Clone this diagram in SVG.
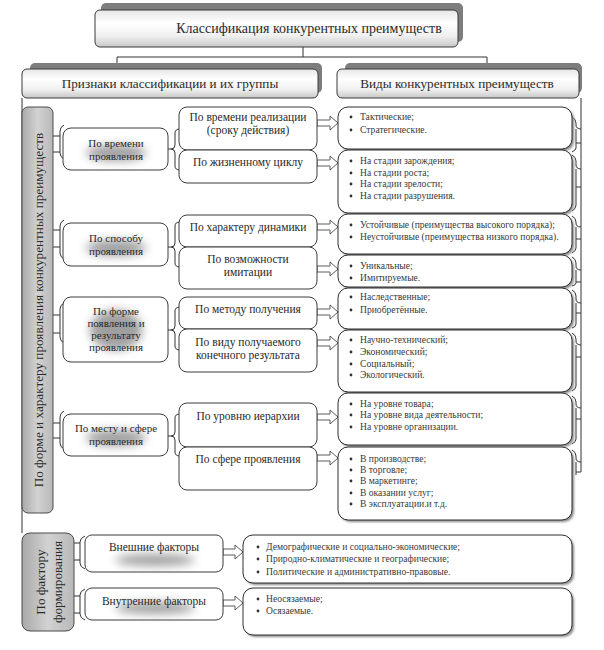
<svg xmlns="http://www.w3.org/2000/svg" width="604" height="650" viewBox="0 0 604 650" font-family="'Liberation Serif', 'Times New Roman', serif">
<defs>
<linearGradient id="hdr" x1="0" y1="0" x2="0" y2="1">
<stop offset="0" stop-color="#e6e6e6"/>
<stop offset="0.35" stop-color="#ffffff"/>
<stop offset="0.7" stop-color="#f0f0f0"/>
<stop offset="1" stop-color="#c8c8c8"/>
</linearGradient>
<linearGradient id="bar" x1="0" y1="0" x2="1" y2="0">
<stop offset="0" stop-color="#a9a9a9"/>
<stop offset="0.5" stop-color="#d2d2d2"/>
<stop offset="1" stop-color="#b8b8b8"/>
</linearGradient>
<filter id="blur" x="-50%" y="-100%" width="200%" height="300%">
<feGaussianBlur stdDeviation="5"/>
</filter>
<filter id="sh" x="-10%" y="-10%" width="130%" height="130%">
<feGaussianBlur stdDeviation="0.8"/>
</filter>
</defs>
<style>
text{font-family:'Liberation Serif','Times New Roman',serif;fill:#2a2a2a}
.t15{font-size:14px}
.t13{font-size:13.2px}
.t11{font-size:11.5px}
.t11s{font-size:11px}
.t9{font-size:9.6px;fill:#3a3a3a}
.c{text-anchor:middle}
.hs{fill:#7d7d7d}
.hb{fill:url(#hdr);stroke:#3a3a3a;stroke-width:1}
.gb{fill:url(#bar);stroke:#4a4a4a;stroke-width:1}
.b1{fill:#fff;stroke:#3c3c3c;stroke-width:1}
.rb{fill:#fff;stroke:#2e2e2e;stroke-width:1}
.rs{fill:#8a8a8a;filter:url(#sh)}
.glow{fill:#888;opacity:0.8;filter:url(#blur)}
.ln{fill:none;stroke:#333;stroke-width:1}
.ar{fill:#fff;stroke:#4a4a4a;stroke-width:0.9}
.bl{fill:#333}
</style>

<g id="connectors">
<path class="ln" d="M303,47 V57 M117,57 H487 M117,57 V64 M487,57 V64"/>
<path class="ln" d="M22,98 V533"/>
<path class="ln" d="M581,98 V472"/>
<path class="ln" d="M53,136 H60 M53,152 H60 M64,125 Q60,127 60,131 V153 Q60,157 64,159"/>
<path class="ln" d="M53,230 H60 M53,247 H60 M64,220 Q60,222 60,226 V253 Q60,257 64,259"/>
<path class="ln" d="M53,315 H60 M53,333 H60 M64,303 Q60,305 60,309 V337 Q60,341 64,343"/>
<path class="ln" d="M53,423 H60 M53,438 H60 M64,411 Q60,413 60,417 V443 Q60,447 64,449"/>
<path class="ln" d="M160,149 H171 M180,129 Q175,129 175,133 V145 Q175,149 171,149 Q175,149 175,153 V166 Q175,170 180,170"/>
<path class="ln" d="M160,247 H171 M180,222 Q175,222 175,226 V243 Q175,247 171,247 Q175,247 175,251 V263 Q175,267 180,267"/>
<path class="ln" d="M160,330 H171 M180,307 Q175,307 175,311 V326 Q175,330 171,330 Q175,330 175,334 V346 Q175,350 180,350"/>
<path class="ln" d="M160,436 H171 M180,414 Q175,414 175,418 V432 Q175,436 171,436 Q175,436 175,440 V452 Q175,456 180,456"/>
<path class="ln" d="M572,117 Q576,119 576,123 V125 Q576,129 581,129 M576,143 H581 M576,129 V148 Q576,150 572,152"/>
<path class="ln" d="M572,155 Q576,157 576,161 V165 Q576,169 581,169 M576,187 H581 M576,169 V205 Q576,209 572,211"/>
<path class="ln" d="M572,216 Q576,218 576,222 V223 Q576,227 581,227 M576,239 H581 M576,227 V248 Q576,251 572,253"/>
<path class="ln" d="M572,257 Q576,259 576,263 V266 Q576,270 581,270 M576,282 H581 M576,270 V283 Q576,285 572,286"/>
<path class="ln" d="M572,290 Q576,292 576,296 V299 Q576,303 581,303 M576,313 H581 M576,303 V324 Q576,327 572,328"/>
<path class="ln" d="M572,333 Q576,335 576,339 V341 Q576,345 581,345 M576,357 H581 M576,345 V386 Q576,389 572,391"/>
<path class="ln" d="M572,396 Q576,398 576,402 V404 Q576,408 581,408 M576,419 H581 M576,408 V439 Q576,442 572,444"/>
<path class="ln" d="M572,450 Q576,452 576,456 V458 Q576,462 581,462 M576,472 H581 M576,462 V475"/>
<path class="ln" d="M74,543 H80 M74,560 H80 M85,536 Q80,538 80,542 V563 Q80,567 85,569"/>
<path class="ln" d="M74,596 H80 M74,613 H80 M85,589 Q80,591 80,595 V614 Q80,618 85,620"/>
<path class="ar" d="M317,120 H330 V116 L338,123 L330,130 V126 H317 Z"/>
<path class="ar" d="M317,160 H330 V156 L338,163 L330,170 V166 H317 Z"/>
<path class="ar" d="M317,224 H330 V220 L338,227 L330,234 V230 H317 Z"/>
<path class="ar" d="M317,266 H330 V262 L338,269 L330,276 V272 H317 Z"/>
<path class="ar" d="M317,309 H330 V305 L338,312 L330,319 V315 H317 Z"/>
<path class="ar" d="M317,340 H330 V336 L338,343 L330,350 V346 H317 Z"/>
<path class="ar" d="M317,414 H330 V410 L338,417 L330,424 V420 H317 Z"/>
<path class="ar" d="M317,455 H330 V451 L338,458 L330,465 V461 H317 Z"/>
<path class="ar" d="M223,549 H235 V545 L243,552 L235,559 V555 H223 Z"/>
<path class="ar" d="M223,600 H235 V596 L243,603 L235,610 V606 H223 Z"/>
</g>

<g id="title">
<rect class="hs" x="101" y="3" width="362" height="39" rx="5"/>
<rect class="hb" x="95" y="10" width="363" height="37" rx="5"/>
<text class="t15 c" x="309" y="33">Классификация конкурентных преимуществ</text>
</g>
<g id="hdr-left">
<rect class="hs" x="30" y="63" width="292" height="30" rx="5"/>
<rect class="hb" x="22" y="69" width="296" height="29" rx="5"/>
<text class="t13 c" x="170" y="88">Признаки классификации и их группы</text>
</g>
<g id="hdr-right">
<rect class="hs" x="345" y="63" width="237" height="30" rx="5"/>
<rect class="hb" x="337" y="69" width="242" height="29" rx="5"/>
<text class="t13 c" x="457" y="88">Виды конкурентных преимуществ</text>
</g>

<g id="bar-form">
<rect class="gb" x="22" y="107" width="31" height="406" rx="6"/>
<text class="t13 c" transform="translate(42.5,310) rotate(-90)">По форме и характеру проявления конкурентных преимуществ</text>
</g>
<g id="bar-factor">
<rect class="gb" x="22" y="533" width="52" height="98" rx="8"/>
<text class="t13 c" transform="translate(45,582) rotate(-90)">По фактору</text>
<text class="t13 c" transform="translate(62,582) rotate(-90)">формирования</text>
</g>

<g id="l1-time">
<rect class="b1" x="63" y="128" width="105" height="42" rx="8"/>
<ellipse class="glow" cx="116" cy="153" rx="30" ry="8"/>
<text class="t11s c" x="116" y="147">По времени</text>
<text class="t11s c" x="116" y="160">проявления</text>
</g>
<g id="l1-way">
<rect class="b1" x="63" y="223" width="105" height="43" rx="8"/>
<ellipse class="glow" cx="116" cy="248" rx="30" ry="8"/>
<text class="t11s c" x="116" y="242">По способу</text>
<text class="t11s c" x="116" y="255">проявления</text>
</g>
<g id="l1-form">
<rect class="b1" x="63" y="297" width="105" height="65" rx="8"/>
<ellipse class="glow" cx="116" cy="330" rx="26" ry="20"/>
<text class="t11s c" x="116" y="315">По форме</text>
<text class="t11s c" x="116" y="327">появления и</text>
<text class="t11s c" x="116" y="339">результату</text>
<text class="t11s c" x="116" y="351">проявления</text>
</g>
<g id="l1-place">
<rect class="b1" x="63" y="414" width="105" height="42" rx="8"/>
<ellipse class="glow" cx="116" cy="438" rx="30" ry="8"/>
<text class="t11s c" x="116" y="432">По месту и сфере</text>
<text class="t11s c" x="116" y="445">проявления</text>
</g>

<g id="l2-real">
<rect class="b1" x="179" y="107" width="138" height="43" rx="8"/>
<text class="t11 c" x="248" y="121">По времени реализации</text>
<text class="t11 c" x="248" y="134">(сроку действия)</text>
</g>
<g id="l2-life">
<rect class="b1" x="179" y="150" width="138" height="33" rx="8"/>
<text class="t11 c" x="248" y="166">По жизненному циклу</text>
</g>
<g id="l2-dyn">
<rect class="b1" x="179" y="215" width="138" height="32" rx="8"/>
<text class="t11 c" x="248" y="231">По характеру динамики</text>
</g>
<g id="l2-imit">
<rect class="b1" x="179" y="247" width="138" height="42" rx="8"/>
<text class="t11 c" x="248" y="263">По возможности</text>
<text class="t11 c" x="248" y="276">имитации</text>
</g>
<g id="l2-method">
<rect class="b1" x="179" y="297" width="138" height="32" rx="8"/>
<text class="t11 c" x="248" y="313">По методу получения</text>
</g>
<g id="l2-result">
<rect class="b1" x="179" y="329" width="138" height="43" rx="8"/>
<text class="t11 c" x="248" y="346">По виду получаемого</text>
<text class="t11 c" x="248" y="359">конечного результата</text>
</g>
<g id="l2-level">
<rect class="b1" x="179" y="403" width="138" height="44" rx="8"/>
<text class="t11 c" x="248" y="420">По уровню иерархии</text>
</g>
<g id="l2-sphere">
<rect class="b1" x="179" y="447" width="138" height="43" rx="8"/>
<text class="t11 c" x="248" y="463">По сфере  проявления</text>
</g>

<g id="r-tact">
<rect class="rs" x="340" y="109" width="234" height="42" rx="10"/>
<rect class="rb" x="338" y="107" width="234" height="42" rx="10"/>
<circle class="bl" cx="351" cy="117" r="1.4"/><text class="t9" x="360" y="120">Тактические;</text>
<circle class="bl" cx="351" cy="130" r="1.4"/><text class="t9" x="360" y="133">Стратегические.</text>
</g>
<g id="r-life">
<rect class="rs" x="340" y="152" width="234" height="63" rx="10"/>
<rect class="rb" x="338" y="150" width="234" height="63" rx="10"/>
<circle class="bl" cx="351" cy="161" r="1.4"/><text class="t9" x="360" y="164">На стадии зарождения;</text>
<circle class="bl" cx="351" cy="173" r="1.4"/><text class="t9" x="360" y="176">На стадии роста;</text>
<circle class="bl" cx="351" cy="184" r="1.4"/><text class="t9" x="360" y="187">На стадии зрелости;</text>
<circle class="bl" cx="351" cy="196" r="1.4"/><text class="t9" x="360" y="199">На стадии разрушения.</text>
</g>
<g id="r-dyn">
<rect class="rs" x="340" y="216" width="234" height="40" rx="10"/>
<rect class="rb" x="338" y="214" width="234" height="40" rx="10"/>
<circle class="bl" cx="351" cy="225" r="1.4"/><text class="t9" x="360" y="228">Устойчивые (преимущества высокого порядка);</text>
<circle class="bl" cx="351" cy="237" r="1.4"/><text class="t9" x="360" y="240">Неустойчивые (преимущества низкого порядка).</text>
</g>
<g id="r-imit">
<rect class="rs" x="340" y="257" width="234" height="32" rx="10"/>
<rect class="rb" x="338" y="255" width="234" height="32" rx="10"/>
<circle class="bl" cx="351" cy="266" r="1.4"/><text class="t9" x="360" y="269">Уникальные;</text>
<circle class="bl" cx="351" cy="278" r="1.4"/><text class="t9" x="360" y="281">Имитируемые.</text>
</g>
<g id="r-method">
<rect class="rs" x="340" y="290" width="234" height="41" rx="10"/>
<rect class="rb" x="338" y="288" width="234" height="41" rx="10"/>
<circle class="bl" cx="351" cy="297" r="1.4"/><text class="t9" x="360" y="300">Наследственные;</text>
<circle class="bl" cx="351" cy="310" r="1.4"/><text class="t9" x="360" y="313">Приобретённые.</text>
</g>
<g id="r-result">
<rect class="rs" x="340" y="332" width="234" height="62" rx="10"/>
<rect class="rb" x="338" y="330" width="234" height="62" rx="10"/>
<circle class="bl" cx="351" cy="340" r="1.4"/><text class="t9" x="360" y="343">Научно-технический;</text>
<circle class="bl" cx="351" cy="352" r="1.4"/><text class="t9" x="360" y="355">Экономический;</text>
<circle class="bl" cx="351" cy="364" r="1.4"/><text class="t9" x="360" y="367">Социальный;</text>
<circle class="bl" cx="351" cy="375" r="1.4"/><text class="t9" x="360" y="378">Экологический.</text>
</g>
<g id="r-level">
<rect class="rs" x="340" y="395" width="234" height="52" rx="10"/>
<rect class="rb" x="338" y="393" width="234" height="52" rx="10"/>
<circle class="bl" cx="351" cy="404" r="1.4"/><text class="t9" x="360" y="407">На уровне товара;</text>
<circle class="bl" cx="351" cy="415" r="1.4"/><text class="t9" x="360" y="418">На уровне вида деятельности;</text>
<circle class="bl" cx="351" cy="427" r="1.4"/><text class="t9" x="360" y="430">На уровне организации.</text>
</g>
<g id="r-sphere">
<rect class="rs" x="340" y="449" width="234" height="73" rx="10"/>
<rect class="rb" x="338" y="447" width="234" height="73" rx="10"/>
<circle class="bl" cx="351" cy="459" r="1.4"/><text class="t9" x="360" y="462">В производстве;</text>
<circle class="bl" cx="351" cy="470" r="1.4"/><text class="t9" x="360" y="473">В торговле;</text>
<circle class="bl" cx="351" cy="481" r="1.4"/><text class="t9" x="360" y="484">В маркетинге;</text>
<circle class="bl" cx="351" cy="493" r="1.4"/><text class="t9" x="360" y="496">В оказании услуг;</text>
<circle class="bl" cx="351" cy="504" r="1.4"/><text class="t9" x="360" y="507">В эксплуатации.и т.д.</text>
</g>

<g id="b-ext">
<rect class="b1" x="85" y="535" width="138" height="37" rx="7"/>
<ellipse class="glow" cx="155" cy="560" rx="40" ry="6"/>
<text class="t11 c" x="154" y="551">Внешние факторы</text>
</g>
<g id="b-int">
<rect class="b1" x="85" y="588" width="138" height="32" rx="7"/>
<ellipse class="glow" cx="155" cy="608" rx="40" ry="6"/>
<text class="t11 c" x="154" y="605">Внутренние факторы</text>
</g>
<g id="r-ext">
<rect class="rs" x="245" y="537" width="329" height="48" rx="10"/>
<rect class="rb" x="243" y="535" width="329" height="48" rx="10"/>
<circle class="bl" cx="258" cy="547" r="1.4"/><text class="t9" x="266" y="550">Демографические и социально-экономические;</text>
<circle class="bl" cx="258" cy="559" r="1.4"/><text class="t9" x="266" y="562">Природно-климатические и географические;</text>
<circle class="bl" cx="258" cy="572" r="1.4"/><text class="t9" x="266" y="575">Политические и административно-правовые.</text>
</g>
<g id="r-int">
<rect class="rs" x="245" y="590" width="329" height="47" rx="10"/>
<rect class="rb" x="243" y="588" width="329" height="47" rx="10"/>
<circle class="bl" cx="258" cy="599" r="1.4"/><text class="t9" x="266" y="602">Неосязаемые;</text>
<circle class="bl" cx="258" cy="611" r="1.4"/><text class="t9" x="266" y="614">Осязаемые.</text>
</g>
</svg>
